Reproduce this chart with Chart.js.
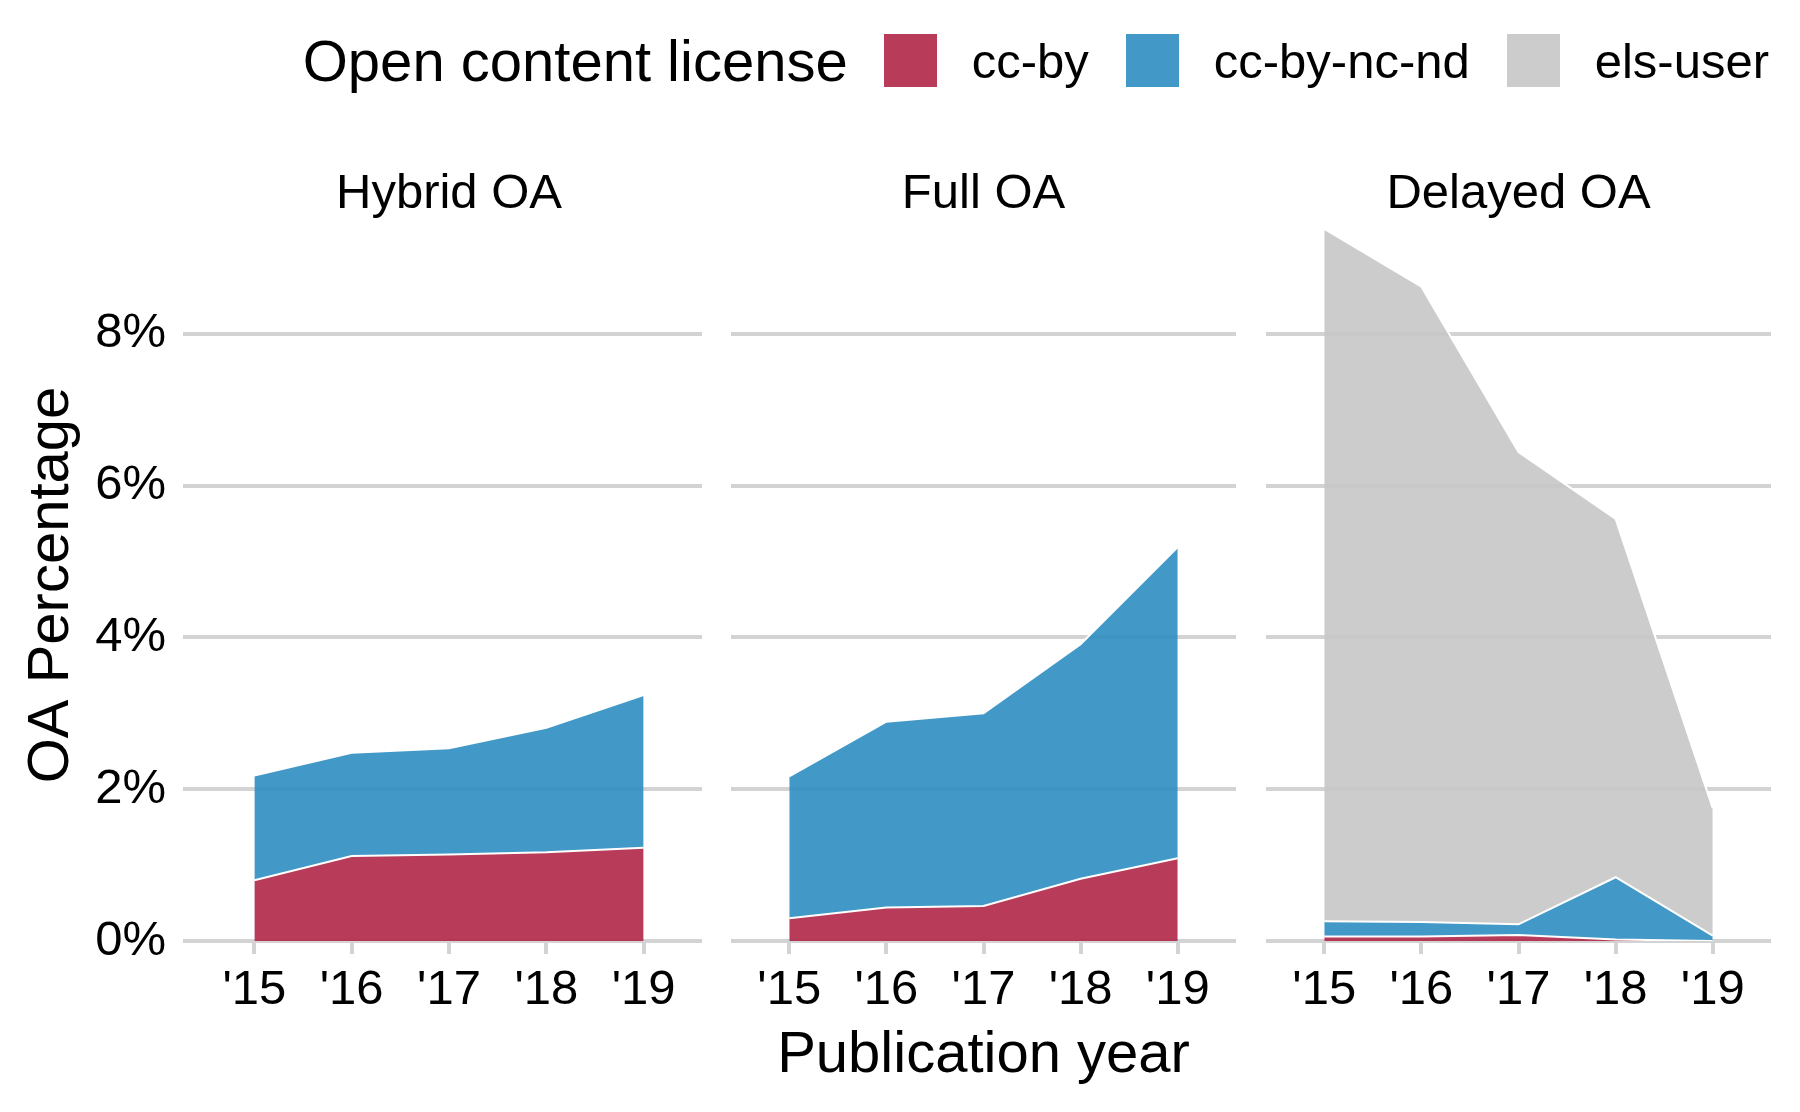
<!DOCTYPE html>
<html><head><meta charset="utf-8">
<script src="https://cdn.jsdelivr.net/npm/chart.js@4.4.1/dist/chart.umd.min.js"></script>
<style>
html,body{margin:0;padding:0;background:#fff;}
#wrap{position:relative;width:1800px;height:1112px;overflow:hidden;font-family:"Liberation Sans",Arial,sans-serif;color:#000;}
.panel{position:absolute;top:0;height:1112px;}
#legend{position:absolute;top:34px;right:31px;height:53px;display:flex;align-items:center;white-space:nowrap;}
#legend .ttl{font-size:58px;margin-right:36px;}
#legend .box{width:53px;height:53px;margin-right:35px;flex:none;}
#legend .lab{font-size:49px;}
</style></head>
<body><div id="wrap">
<div id="legend"></div>
<div class="panel" style="left:0;width:720px"><canvas id="c0"></canvas></div>
<div class="panel" style="left:720px;width:540px"><canvas id="c1"></canvas></div>
<div class="panel" style="left:1260px;width:540px"><canvas id="c2"></canvas></div>
</div>
<script>
// ---- data ----
const yearLabels = ["'15", "'16", "'17", "'18", "'19"];
const panelTitles = ["Hybrid OA", "Full OA", "Delayed OA"];
const licenseNames = ["cc-by", "cc-by-nc-nd", "els-user"];
const licenseColors = ["rgba(176,39,72,0.9)", "rgba(46,142,194,0.9)", "rgba(198,198,198,0.9)"];
const yTickValues = [0, 2, 4, 6, 8];
const legendTitle = "Open content license";
const xAxisTitle = "Publication year";
const yAxisTitle = "OA Percentage";

const hybridCcBy      = [0.80, 1.12, 1.14, 1.17, 1.23];
const hybridCcByNcNd  = [1.38, 1.36, 1.40, 1.64, 2.01];
const fullCcBy        = [0.30, 0.44, 0.46, 0.82, 1.09];
const fullCcByNcNd    = [1.87, 2.45, 2.54, 3.09, 4.10];
const delayedCcBy     = [0.06, 0.06, 0.08, 0.02, 0.00];
const delayedCcByNcNd = [0.20, 0.19, 0.14, 0.82, 0.07];
const delayedElsUser  = [9.12, 8.37, 6.22, 4.72, 1.68];

const panelSeries = [
  [hybridCcBy, hybridCcByNcNd, null],
  [fullCcBy, fullCcByNcNd, null],
  [delayedCcBy, delayedCcByNcNd, delayedElsUser]
];

// ---- styling ----
Chart.defaults.font.family = '"Liberation Sans", Arial, sans-serif';
Chart.defaults.color = '#000';
const gridColor = '#d3d3d3';
const gridWidth = 4;
const padL = [0, 11, 6];
const padR = [18, 24, 29];

let yMax = 0;
panelSeries.forEach(series => {
  yearLabels.forEach((_, j) => {
    let s = 0;
    series.forEach(v => { if (v) s += v[j]; });
    yMax = Math.max(yMax, s);
  });
});

// ---- legend ----
const legend = document.getElementById('legend');
const lt = document.createElement('span');
lt.className = 'ttl'; lt.textContent = legendTitle;
legend.appendChild(lt);
licenseNames.forEach((name, k) => {
  const b = document.createElement('span');
  b.className = 'box'; b.style.background = licenseColors[k];
  legend.appendChild(b);
  const l = document.createElement('span');
  l.className = 'lab'; l.textContent = name;
  if (k < licenseNames.length - 1) l.style.marginRight = '37px';
  legend.appendChild(l);
});

// ---- charts ----
function makeChart(i) {
  const datasets = [];
  panelSeries[i].forEach((vals, k) => {
    if (!vals) return;
    datasets.push({
      label: licenseNames[k],
      data: vals.map((v, j) => ({x: j, y: v})),
      backgroundColor: licenseColors[k],
      borderColor: '#ffffff',
      borderWidth: 2,
      fill: datasets.length === 0 ? 'origin' : '-1',
      pointRadius: 0,
      tension: 0
    });
  });
  new Chart(document.getElementById('c' + i), {
    type: 'line',
    data: {datasets},
    options: {
      responsive: true,
      maintainAspectRatio: false,
      animation: false,
      devicePixelRatio: 1,
      layout: {padding: {top: 165.4, bottom: 0, left: padL[i], right: padR[i]}},
      plugins: {
        legend: {display: false},
        tooltip: {enabled: false},
        title: {
          display: true, text: panelTitles[i], fullSize: false,
          font: {size: 49, weight: 'normal'}, color: '#000',
          padding: {top: 0, bottom: 4.8}
        }
      },
      scales: {
        x: {
          type: 'linear', min: -0.6, max: 4.6,
          afterBuildTicks: s => { s.ticks = yearLabels.map((_, j) => ({value: j})); },
          ticks: {callback: (v, idx) => yearLabels[idx], font: {size: 49}, padding: 7,
                  color: '#000', maxRotation: 0, autoSkip: false},
          grid: {drawOnChartArea: false, drawTicks: true, tickLength: 13, color: gridColor, lineWidth: gridWidth},
          border: {display: false},
          title: {display: i === 1, text: xAxisTitle, font: {size: 58}, color: '#000', padding: {top: 0, bottom: 21}},
          afterFit: s => { s.height = 171; }
        },
        y: {
          stacked: true, min: 0, max: yMax,
          afterBuildTicks: s => { s.ticks = yTickValues.map(v => ({value: v})); },
          ticks: {display: i === 0, callback: (v, idx) => yTickValues[idx] + '%', font: {size: 49}, padding: 17, color: '#000'},
          grid: {color: gridColor, lineWidth: gridWidth, drawTicks: i === 0, tickLength: 13},
          border: {display: false},
          title: {display: i === 0, text: yAxisTitle, font: {size: 58}, color: '#000', padding: {top: 17, bottom: 0}},
          afterFit: s => { s.width = i === 0 ? 196 : 0; }
        }
      }
    }
  });
}
[0, 1, 2].forEach(makeChart);
</script>
</body></html>
